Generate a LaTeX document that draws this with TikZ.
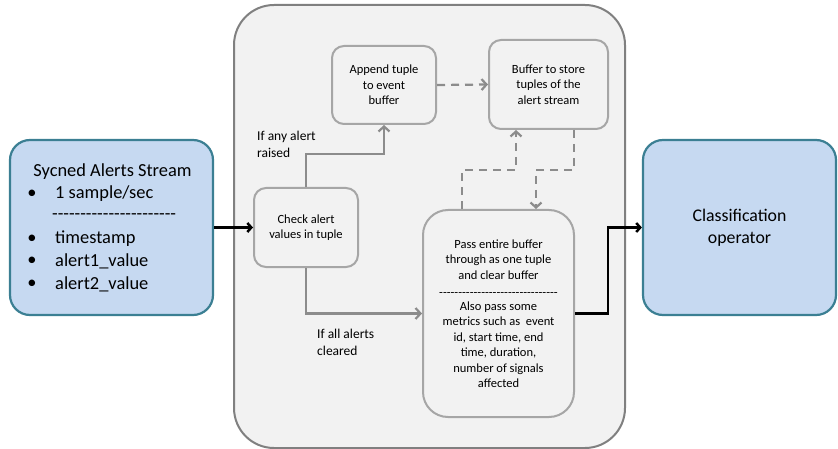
\documentclass[tikz,border=0pt]{standalone}
\usepackage{fontspec}
\setmainfont{Carlito}
\usetikzlibrary{arrows.meta}

\definecolor{streamfill}{HTML}{C6D9F1}
\definecolor{streamedge}{HTML}{3B7F93}
\definecolor{panelfill}{HTML}{F2F2F2}
\definecolor{paneledge}{HTML}{808080}
\definecolor{stepedge}{HTML}{A6A6A6}
\definecolor{linkgray}{HTML}{8C8C8C}

% a run of plain hyphens (no en/em-dash ligatures)
\newcommand\hyphrun[1]{\foreach \k in {1,...,#1}{-}}

\tikzset{
  endbox/.style={draw=streamedge, fill=streamfill, line width=2.2pt,
    rounded corners=20pt, inner sep=0pt},
  panel/.style={draw=paneledge, fill=panelfill, line width=2pt,
    rounded corners=40pt, inner sep=0pt},
  stepbox/.style={draw=stepedge, fill=panelfill, line width=2pt,
    rounded corners=12pt, inner sep=0pt, align=center,
    font=\fontsize{12.5}{15.5}\selectfont},
  bigtext/.style={inner sep=0pt, font=\fontsize{18.4}{22.5}\selectfont},
  label/.style={inner sep=0pt, align=left, anchor=west,
    font=\fontsize{13.5}{16.7}\selectfont},
  flow/.style={draw=linkgray, line width=2.2pt,
    -{Straight Barb[length=5pt,width=11pt]}},
  dashflow/.style={flow, dash pattern=on 8pt off 6pt},
  mainflow/.style={draw=black, line width=2.5pt,
    -{Straight Barb[length=4pt,width=9pt]}},
}

\begin{document}
\begin{tikzpicture}[x=1pt,y=-1pt]
\useasboundingbox (0,0) rectangle (838,449);

% operator container
\node[panel, minimum width=391, minimum height=443] (op) at (429.5,226.5) {};

% input stream and classification operator
\node[endbox, minimum width=203, minimum height=175] (src) at (111.5,227.5) {};
\node[endbox, minimum width=193, minimum height=175, align=center,
  font=\fontsize{17.8}{21.7}\selectfont] (cls) at (739.5,227.5)
  {Classification\\operator};

% text of the input stream box
\node[bigtext] (title) at (112.5,172) {Sycned Alerts Stream};
\node[bigtext] (b1) at (32,194) {•};
\node[bigtext, anchor=west] (t1) at (55,194) {1 sample/sec};
\node[bigtext, anchor=west] (sep) at (52,217) {\hyphrun{22}};
\node[bigtext] (b2) at (32,239) {•};
\node[bigtext, anchor=west] (t2) at (55,239) {timestamp};
\node[bigtext] (b3) at (32,261) {•};
\node[bigtext, anchor=west] (t3) at (55,261) {alert1\_value};
\node[bigtext] (b4) at (32,284) {•};
\node[bigtext, anchor=west] (t4) at (55,284) {alert2\_value};

% processing steps
\node[stepbox, minimum width=104, minimum height=79] (check) at (306,227.5)
  {Check alert\\values in tuple};
\node[stepbox, minimum width=104, minimum height=78] (append) at (384,85)
  {Append tuple\\to event\\buffer};
\node[stepbox, minimum width=119, minimum height=89] (buffer) at (548.5,84.5)
  {Buffer to store\\tuples of the\\alert stream};
\node[stepbox, rounded corners=25pt, minimum width=151, minimum height=207]
  (pass) at (498.5,313.5)
  {Pass entire buffer\\through as one tuple\\and clear buffer\\[1.5pt]
   \hyphrun{31}\\[-1.5pt]
   Also pass some\\metrics such as\ \ event\\id, start time, end\\
   time, duration,\\number of signals\\affected};

% branch labels
\node[label] (raised) at (257,144.5) {If any alert\\raised};
\node[label] (cleared) at (317,342.5) {If all alerts\\cleared};

% routing points
\coordinate (upA) at (462,170);
\coordinate (upB) at (516,170);
\coordinate (dnA) at (574,170);
\coordinate (dnB) at (536,170);
\coordinate (outJ) at (608,228);

% connectors
\draw[mainflow] (src.east) -- (check.west);
\draw[flow] (check.north) -- ++(0,-33) -| (append.south);
\draw[flow] (check.south) |- (pass.west);
\draw[dashflow] (append.east) -- (buffer.west);
\draw[dashflow] (pass.north -| upA) -- (upA) -- (upB) -- (buffer.south -| upB);
\draw[dashflow] (buffer.south -| dnA) -- (dnA) -- (dnB) -- (pass.north -| dnB);
\draw[mainflow] (pass.east) -- (pass.east -| outJ) -- (cls.west -| outJ) -- (cls.west);
\end{tikzpicture}
\end{document}
